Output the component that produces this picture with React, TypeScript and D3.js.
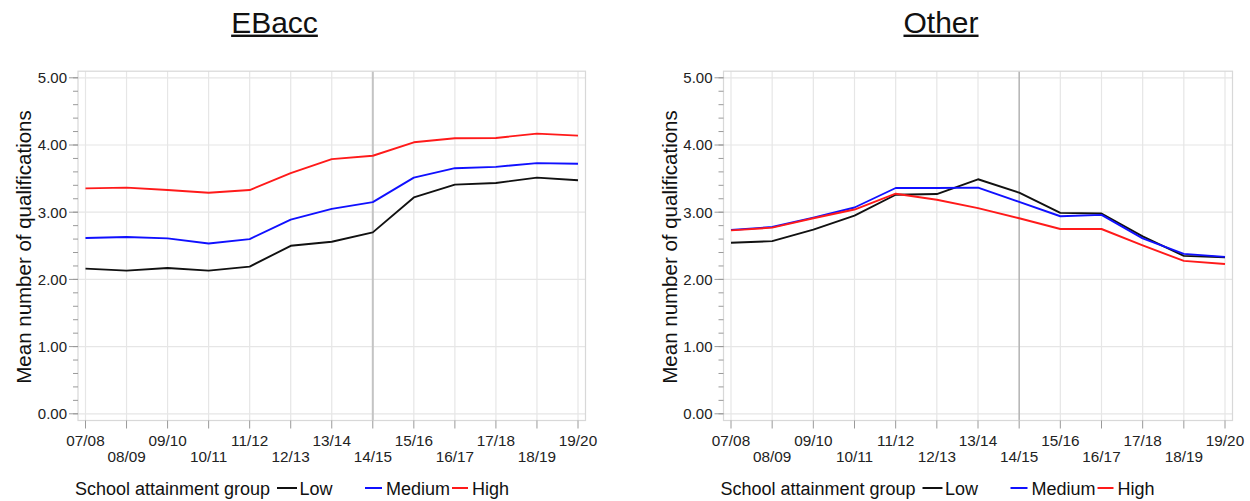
import React, { useEffect, useRef } from "react";
import * as d3 from "d3";

const years = ["07/08", "08/09", "09/10", "10/11", "11/12", "12/13", "13/14", "14/15", "15/16", "16/17", "17/18", "18/19", "19/20"];
const yTicks = [0, 1, 2, 3, 4, 5];

const ebaccLow = [2.16, 2.13, 2.17, 2.13, 2.19, 2.5, 2.56, 2.7, 3.22, 3.41, 3.435, 3.515, 3.475];
const ebaccMedium = [2.615, 2.63, 2.61, 2.535, 2.6, 2.89, 3.05, 3.15, 3.515, 3.655, 3.675, 3.73, 3.72];
const ebaccHigh = [3.355, 3.365, 3.33, 3.29, 3.33, 3.58, 3.79, 3.84, 4.04, 4.1, 4.105, 4.17, 4.14];

const otherLow = [2.545, 2.57, 2.74, 2.95, 3.26, 3.27, 3.49, 3.29, 2.99, 2.98, 2.64, 2.35, 2.33];
const otherMedium = [2.735, 2.78, 2.92, 3.07, 3.36, 3.36, 3.365, 3.155, 2.94, 2.96, 2.61, 2.38, 2.335];
const otherHigh = [2.73, 2.77, 2.91, 3.04, 3.275, 3.185, 3.06, 2.91, 2.75, 2.75, 2.505, 2.275, 2.23];

const groups = ["Low", "Medium", "High"];
const groupColors = ["#111111", "#1010ff", "#ff1a1a"];
const refYear = "14/15";

const FONT = "'Liberation Sans', Arial, sans-serif";

interface Panel {
  title: string;
  titleX: number;
  left: number;
  right: number;
  refColor: string;
  refWidth: number;
  series: number[][];
}

const panels: Panel[] = [
  { title: "EBacc", titleX: 274.5, left: 78, right: 585.5, refColor: "#c4c4c4", refWidth: 2, series: [ebaccLow, ebaccMedium, ebaccHigh] },
  { title: "Other", titleX: 941, left: 723.5, right: 1232.5, refColor: "#a8a8a8", refWidth: 1.2, series: [otherLow, otherMedium, otherHigh] },
];

const TOP = 71.2;
const BOTTOM = 420.5;

export default function App() {
  const ref = useRef<SVGSVGElement | null>(null);

  useEffect(() => {
    const svg = d3.select(ref.current);
    svg.selectAll("*").remove();

    const y = d3.scaleLinear().domain([0, 5]).range([413.8, 77.8]);
    const minorTicks = d3.range(0, 5.0001, 0.2);

    panels.forEach((p) => {
      const g = svg.append("g");
      const x = d3.scalePoint<string>().domain(years).range([p.left + 7.5, p.right - 7.5]);

      // title with underline
      const t = g.append("text")
        .attr("x", p.titleX).attr("y", 32.5)
        .attr("text-anchor", "middle")
        .attr("font-family", FONT).attr("font-size", 30).attr("fill", "#111")
        .text(p.title);
      const bb = (t.node() as SVGTextElement).getBBox();
      g.append("rect").attr("x", bb.x).attr("y", 34.6).attr("width", bb.width).attr("height", 2.4).attr("fill", "#111");

      // grid
      g.selectAll(".vg").data(years).join("line")
        .attr("x1", (d) => x(d)!).attr("x2", (d) => x(d)!)
        .attr("y1", TOP).attr("y2", BOTTOM)
        .attr("stroke", "#e6e6e6").attr("stroke-width", 1.2);
      g.selectAll(".hg").data(yTicks).join("line")
        .attr("x1", p.left).attr("x2", p.right)
        .attr("y1", (d) => y(d)).attr("y2", (d) => y(d))
        .attr("stroke", "#e6e6e6").attr("stroke-width", 1.2);

      // reference line
      g.append("line")
        .attr("x1", x(refYear)!).attr("x2", x(refYear)!)
        .attr("y1", TOP).attr("y2", BOTTOM)
        .attr("stroke", p.refColor).attr("stroke-width", p.refWidth);

      // frame
      g.append("rect")
        .attr("x", p.left).attr("y", TOP)
        .attr("width", p.right - p.left).attr("height", BOTTOM - TOP)
        .attr("fill", "none").attr("stroke", "#d8d8d8").attr("stroke-width", 1.2);

      // y axis ticks
      g.selectAll(".ymin").data(minorTicks).join("line")
        .attr("x1", p.left - 5).attr("x2", p.left)
        .attr("y1", (d) => y(d)).attr("y2", (d) => y(d))
        .attr("stroke", "#9a9a9a").attr("stroke-width", 1);
      g.selectAll(".ymaj").data(yTicks).join("line")
        .attr("x1", p.left - 9).attr("x2", p.left)
        .attr("y1", (d) => y(d)).attr("y2", (d) => y(d))
        .attr("stroke", "#9a9a9a").attr("stroke-width", 1);
      g.selectAll(".ylab").data(yTicks).join("text")
        .attr("x", p.left - 11).attr("y", (d) => y(d) + 5.3)
        .attr("text-anchor", "end")
        .attr("font-family", FONT).attr("font-size", 15).attr("fill", "#222")
        .text((d) => d3.format(".2f")(d));

      // x axis ticks and staggered labels
      g.selectAll(".xt").data(years).join("line")
        .attr("x1", (d) => x(d)!).attr("x2", (d) => x(d)!)
        .attr("y1", BOTTOM).attr("y2", BOTTOM + 8)
        .attr("stroke", "#9a9a9a").attr("stroke-width", 1);
      g.selectAll(".xl").data(years).join("text")
        .attr("x", (d) => x(d)!)
        .attr("y", (_d, i) => (i % 2 === 0 ? 445.5 : 461.5))
        .attr("text-anchor", "middle")
        .attr("font-family", FONT).attr("font-size", 15.3).attr("fill", "#222")
        .text((d) => d);

      // y axis title
      g.append("text")
        .attr("transform", `translate(${p.left - 47},247) rotate(-90)`)
        .attr("text-anchor", "middle")
        .attr("font-family", FONT).attr("font-size", 20.5).attr("fill", "#111")
        .text("Mean number of qualifications");

      // series lines
      const line = d3.line<number>()
        .x((_d, i) => x(years[i])!)
        .y((d) => y(d));
      p.series.forEach((s, k) => {
        g.append("path")
          .attr("d", line(s)!)
          .attr("fill", "none")
          .attr("stroke", groupColors[k])
          .attr("stroke-width", 1.9)
          .attr("stroke-linejoin", "round");
      });

      // legend
      const off = p.left - 78;
      const ly = 494.5;
      const lg = g.append("g").attr("font-family", FONT).attr("font-size", 18).attr("fill", "#111");
      lg.append("text").attr("x", 75 + off).attr("y", ly).text("School attainment group");
      const items = [
        { x1: 277, x2: 297, tx: 299.5 },
        { x1: 365, x2: 382, tx: 386 },
        { x1: 452, x2: 468, tx: 472 },
      ];
      items.forEach((it, k) => {
        lg.append("line")
          .attr("x1", it.x1 + off).attr("x2", it.x2 + off)
          .attr("y1", ly - 6.5).attr("y2", ly - 6.5)
          .attr("stroke", groupColors[k]).attr("stroke-width", 2);
        lg.append("text").attr("x", it.tx + off).attr("y", ly).text(groups[k]);
      });
    });
  }, []);

  return (
    <svg
      ref={ref}
      width={1250}
      height={501}
      style={{ position: "absolute", left: 0, top: 0, background: "#fff" }}
    />
  );
}
